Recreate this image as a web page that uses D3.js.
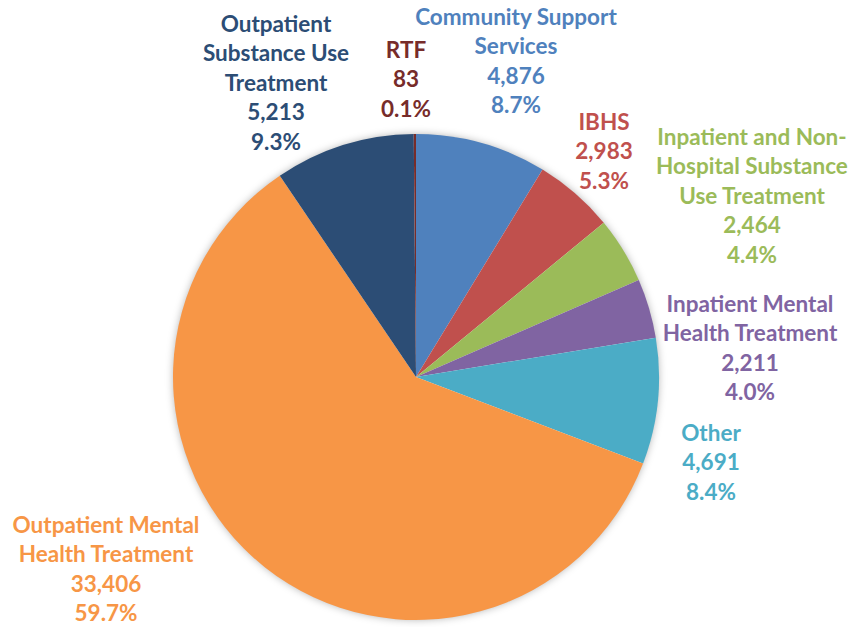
<!DOCTYPE html>
<html><head><meta charset="utf-8">
<script src="https://cdn.jsdelivr.net/npm/d3@7"></script>
<style>body{margin:0;background:#fff}svg{display:block}</style>
</head><body>
<script>
const categories = ["Community Support Services","IBHS","Inpatient and Non-Hospital Substance Use Treatment","Inpatient Mental Health Treatment","Other","Outpatient Mental Health Treatment","Outpatient Substance Use Treatment","RTF"];
const values = [4876,2983,2464,2211,4691,33406,5213,83];
const percents = ["8.7%","5.3%","4.4%","4.0%","8.4%","59.7%","9.3%","0.1%"];
const labelLines = [["Community Support","Services"],["IBHS"],["Inpatient and Non-","Hospital Substance","Use Treatment"],["Inpatient Mental","Health Treatment"],["Other"],["Outpatient Mental","Health Treatment"],["Outpatient","Substance Use","Treatment"],["RTF"]];
const colors = ["#4F81BD","#C0504D","#9BBB59","#8064A2","#4BACC6","#F79646","#2C4D75","#772C2A"];
const labelColors = ["#4F81BD","#C0504D","#9BBB59","#8064A2","#4BACC6","#F79646","#2C4D75","#772C2A"];
// label anchor (center x, first line y)
const labelPos = [[516,17],[604,122],[752,137],[750,304],[711,433],[106,525],[276,24],[406,50]];

const W=854,H=627, cx=416, cy=377, R=243;
const svg=d3.select("body").append("svg").attr("width",W).attr("height",H);
const defs=svg.append("defs");
const f=defs.append("filter").attr("id","sh").attr("x","-20%").attr("y","-20%").attr("width","140%").attr("height","140%");
f.append("feDropShadow").attr("dx",0).attr("dy",0).attr("stdDeviation",4).attr("flood-color","#000").attr("flood-opacity",0.35);

const pie=d3.pie().sort(null).value(d=>d)(values);
const arc=d3.arc().innerRadius(0).outerRadius(R);
const g=svg.append("g").attr("transform",`translate(${cx},${cy})`);
g.append("circle").attr("r",R-1).attr("fill","#fff").attr("filter","url(#sh)");
g.selectAll("path").data(pie).join("path").attr("d",arc).attr("fill",(d,i)=>colors[i]);

const fmt=d3.format(",");
const lh=29.5;
categories.forEach((c,i)=>{
  const lines=[...labelLines[i], fmt(values[i]), percents[i]];
  const t=svg.append("text").attr("text-anchor","middle")
    .attr("font-family","Lato, 'Open Sans', sans-serif").attr("font-weight","bold")
    .attr("font-size",22.5).attr("fill",labelColors[i]);
  lines.forEach((l,k)=>{
    t.append("tspan").attr("x",labelPos[i][0]).attr("y",labelPos[i][1]+k*lh).attr("dy","0.35em").text(l);
  });
});
</script>
</body></html>
